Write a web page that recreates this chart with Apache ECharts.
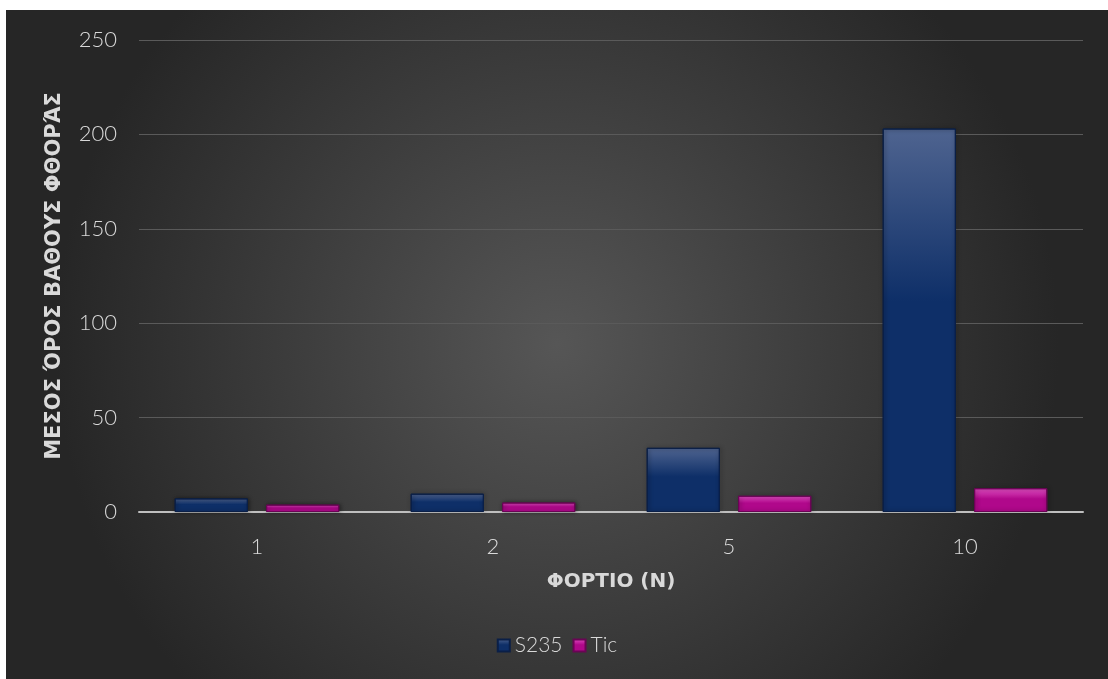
<!DOCTYPE html>
<html>
<head>
<meta charset="utf-8">
<script src="https://cdn.jsdelivr.net/npm/echarts@6/dist/echarts.min.js"></script>
<style>
html, body { margin: 0; padding: 0; background: #fff; }
#chart { position: absolute; left: 6px; top: 10px; width: 1102px; height: 669px; }
</style>
</head>
<body>
<div id="chart"></div>
<script>
// data
var categories = ['1', '2', '5', '10'];
var s235 = [7.2, 9.7, 34.0, 203.1];
var tic = [3.9, 5.0, 8.6, 12.6];
var yTicks = [0, 50, 100, 150, 200, 250];

var txt = '#d9d9d9';
var font = 'Lato, "Noto Sans", sans-serif';
var boldFont = '"DejaVu Sans", sans-serif';

function barColor(top, bottom) {
	return new echarts.graphic.LinearGradient(0, 0, 0, 1, [
		{ offset: 0, color: top },
		{ offset: 0.45, color: bottom },
		{ offset: 1, color: bottom }
	]);
}

var myChart = echarts.init(document.getElementById('chart'));

var option = {
	backgroundColor: {
		type: 'radial', x: 0.5, y: 0.5, r: 0.75,
		colorStops: [
			{ offset: 0, color: '#565656' },
			{ offset: 1, color: '#262626' }
		]
	},
	textStyle: { fontFamily: font },
	grid: { left: 133, right: 25, top: 30, bottom: 167, containLabel: false },
	legend: {
		bottom: 18,
		left: 'center',
		itemWidth: 12, itemHeight: 12, itemGap: 10,
		icon: 'rect',
		textStyle: { color: txt, fontSize: 21, fontWeight: 300, fontFamily: font },
		data: ['S235', 'Tic']
	},
	xAxis: {
		type: 'category',
		data: categories,
		name: 'ΦΟΡΤΙΟ (Ν)',
		nameLocation: 'middle',
		nameGap: 60,
		nameTextStyle: { color: txt, fontSize: 20, fontWeight: 'bold', fontFamily: boldFont },
		axisLine: { lineStyle: { color: '#bfbfbf', width: 2 } },
		axisTick: { show: false },
		axisLabel: { color: txt, fontSize: 22, fontWeight: 300, margin: 24, fontFamily: font }
	},
	yAxis: {
		type: 'value',
		min: yTicks[0],
		max: yTicks[yTicks.length - 1],
		interval: 50,
		name: 'ΜΕΣΟΣ ΌΡΟΣ ΒΑΘΟΥΣ ΦΘΟΡΆΣ',
		nameLocation: 'middle',
		nameGap: 74,
		nameTextStyle: { color: txt, fontSize: 21, fontWeight: 'bold', fontFamily: boldFont },
		axisLine: { show: false },
		axisTick: { show: false },
		axisLabel: { color: txt, fontSize: 22, fontWeight: 300, margin: 22, fontFamily: font },
		splitLine: { lineStyle: { color: '#5a5a5a', width: 1 } }
	},
	series: [
		{
			name: 'S235',
			type: 'bar',
			data: s235,
			barWidth: '31%',
			barGap: '25%',
			itemStyle: {
				color: barColor('#4f6490', '#0e2f68'),
				borderColor: '#0a1f47',
				borderWidth: 1,
				shadowColor: 'rgba(0,0,0,0.45)',
				shadowBlur: 4,
				shadowOffsetX: 1
			}
		},
		{
			name: 'Tic',
			type: 'bar',
			data: tic,
			barWidth: '31%',
			barGap: '25%',
			itemStyle: {
				color: barColor('#e24fc4', '#b0088b'),
				borderColor: '#6a0455',
				borderWidth: 1,
				shadowColor: 'rgba(0,0,0,0.45)',
				shadowBlur: 4,
				shadowOffsetX: 1
			}
		}
	]
};

myChart.setOption(option);
</script>
</body>
</html>
